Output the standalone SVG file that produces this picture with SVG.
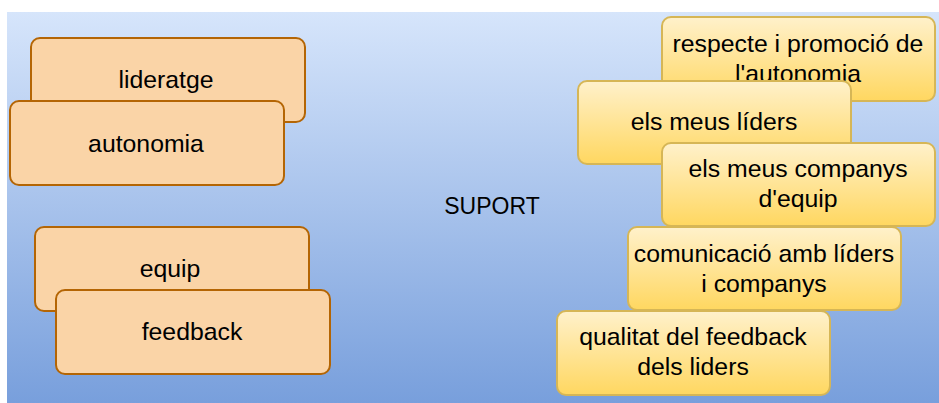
<svg xmlns="http://www.w3.org/2000/svg" width="939" height="403" viewBox="0 0 939 403">
  <defs>
    <linearGradient id="bgGrad" x1="0" y1="0" x2="0" y2="1">
      <stop offset="0" stop-color="#d6e5fb"/>
      <stop offset="1" stop-color="#789fdc"/>
    </linearGradient>
    <linearGradient id="yellowGrad" x1="0" y1="0" x2="0" y2="1">
      <stop offset="0" stop-color="#fff1cb"/>
      <stop offset="1" stop-color="#ffd760"/>
    </linearGradient>
    <style>
      .orange { fill: #fad4a7; stroke: #b46504; stroke-width: 2; }
      .yellow { fill: url(#yellowGrad); stroke: #d6b656; stroke-width: 2; }
      .label { font-family: "Liberation Sans", Arial, Helvetica, sans-serif; font-size: 24.8px; fill: #000; text-anchor: middle; }
      .title { font-family: "Liberation Sans", Arial, Helvetica, sans-serif; font-size: 23px; fill: #000; text-anchor: middle; }
    </style>
  </defs>

  <!-- background panel -->
  <rect x="7" y="12" width="932" height="391" fill="url(#bgGrad)"/>

  <g id="suport">
    <text class="title" x="492" y="214">SUPORT</text>
  </g>

  <!-- left column -->
  <g id="lideratge">
    <rect class="orange" x="31" y="38" width="274" height="84" rx="9"/>
    <text class="label" x="166" y="88">lideratge</text>
  </g>
  <g id="autonomia">
    <rect class="orange" x="10" y="101" width="274" height="84" rx="9"/>
    <text class="label" x="146" y="152">autonomia</text>
  </g>
  <g id="equip">
    <rect class="orange" x="35" y="227" width="274" height="84" rx="9"/>
    <text class="label" x="170" y="277">equip</text>
  </g>
  <g id="feedback">
    <rect class="orange" x="56" y="290" width="274" height="84" rx="9"/>
    <text class="label" x="192" y="340">feedback</text>
  </g>

  <!-- right column -->
  <g id="respecte">
    <rect class="yellow" x="662" y="17" width="273" height="84" rx="9"/>
    <text class="label" x="798" y="52">respecte i promoció de</text>
    <text class="label" x="798" y="82">l'autonomia</text>
  </g>
  <g id="lidersNode">
    <rect class="yellow" x="578" y="81" width="273" height="83" rx="9"/>
    <text class="label" x="714" y="130">els meus líders</text>
  </g>
  <g id="companys">
    <rect class="yellow" x="662" y="143" width="273" height="83" rx="9"/>
    <text class="label" x="798" y="177">els meus companys</text>
    <text class="label" x="798" y="207">d'equip</text>
  </g>
  <g id="comunicacio">
    <rect class="yellow" x="628" y="227" width="273" height="83" rx="9"/>
    <text class="label" x="764" y="262">comunicació amb líders</text>
    <text class="label" x="764" y="292">i companys</text>
  </g>
  <g id="qualitat">
    <rect class="yellow" x="557" y="311" width="273" height="84" rx="9"/>
    <text class="label" x="693" y="345">qualitat del feedback</text>
    <text class="label" x="693" y="375">dels liders</text>
  </g>

  <g id="connectors"/>
</svg>
